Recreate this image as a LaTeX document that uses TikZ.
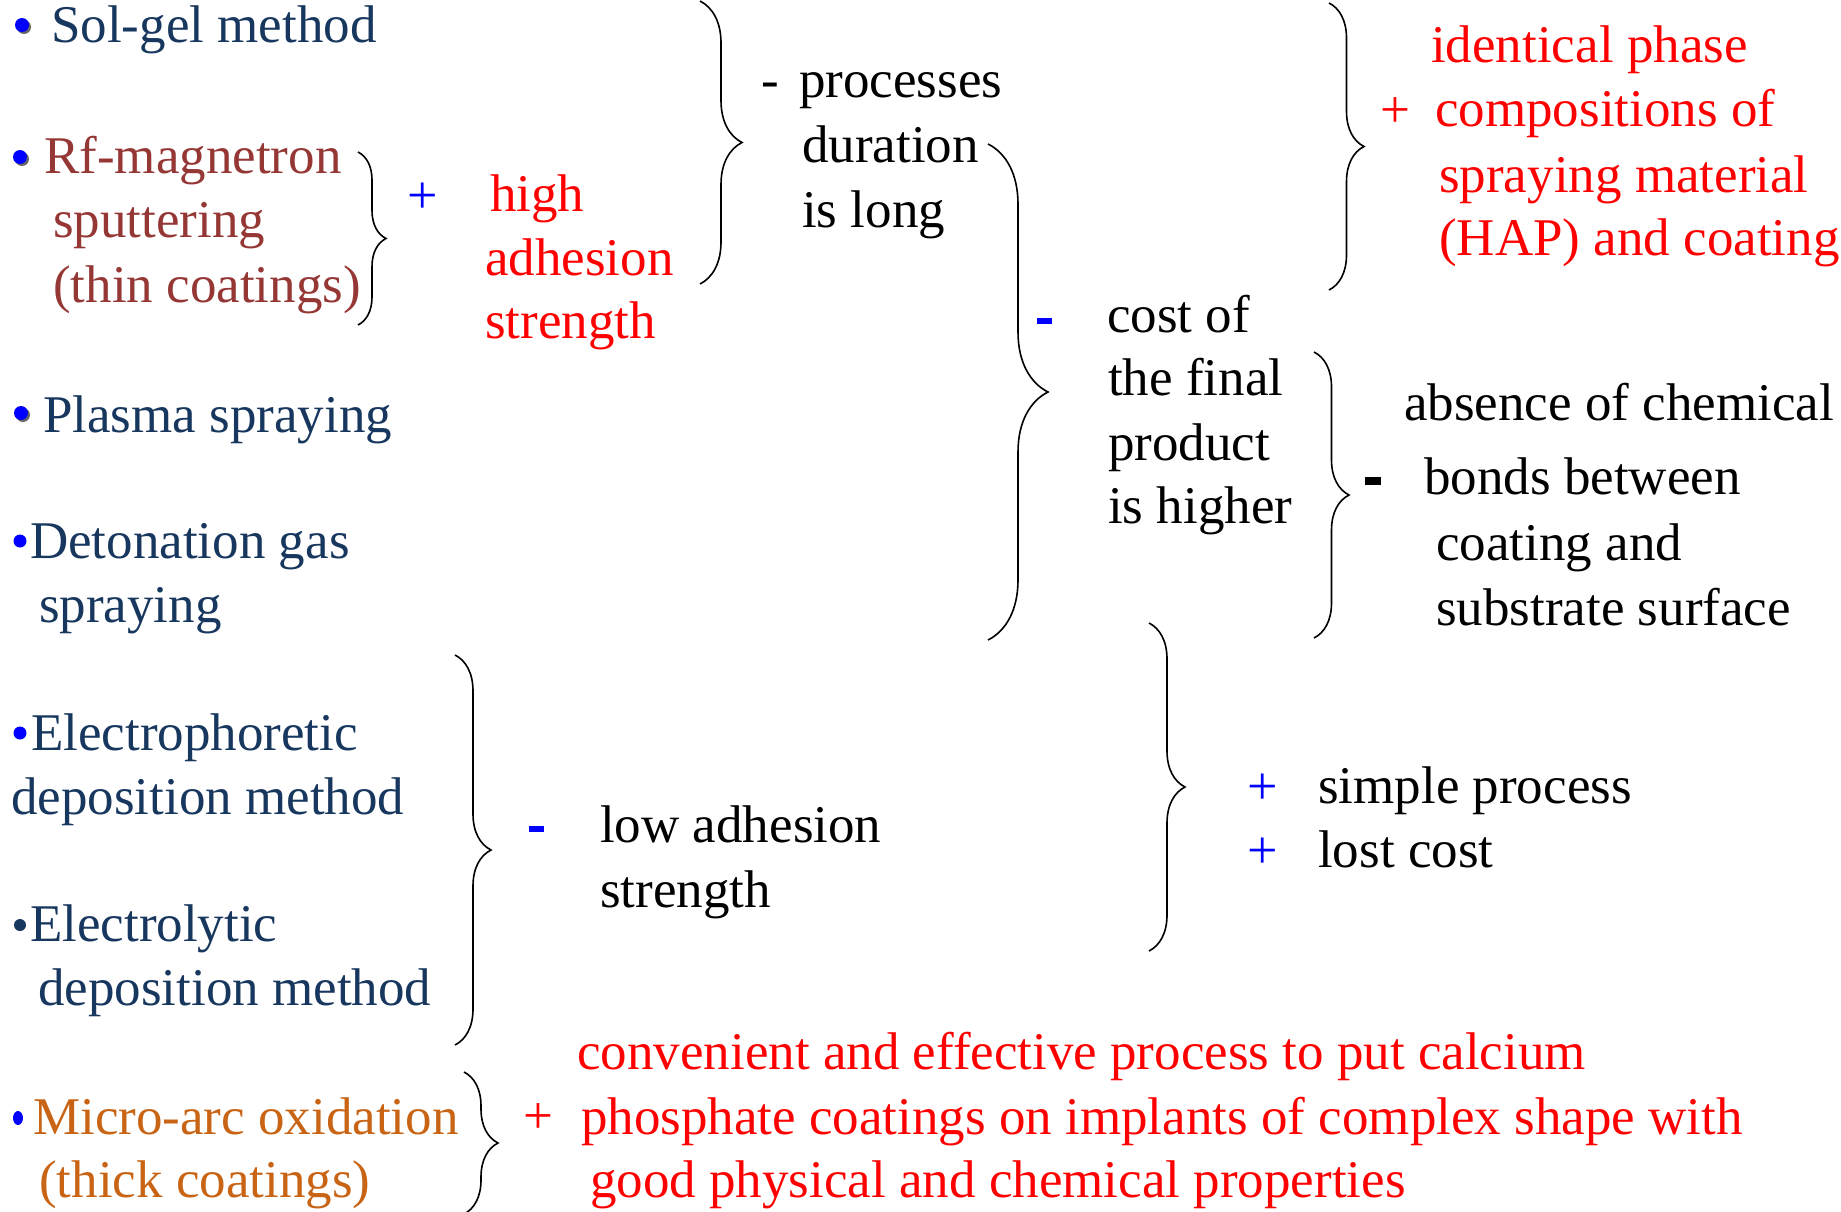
\documentclass[tikz,border=0pt]{standalone}
\usepackage{fontspec}
\setmainfont{Liberation Serif}
\usetikzlibrary{decorations.pathreplacing,shapes.geometric}
\definecolor{navyc}{HTML}{17375E}
\definecolor{brownc}{HTML}{953735}
\definecolor{orangec}{HTML}{C86414}
\definecolor{redc}{HTML}{FF0000}
\definecolor{bluec}{HTML}{0000FF}
\tikzset{
  lefttxt/.style={anchor=base west, inner sep=0pt, text=navyc, font=\fontsize{53}{60}\selectfont},
  txt/.style={anchor=base west, inner sep=0pt, text=black, font=\fontsize{53}{60}\selectfont},
  redtxt/.style={txt, text=redc},
  sign/.style={anchor=center, inner sep=0pt, text=bluec, font=\fontsize{54}{60}\selectfont},
  dashbar/.style={rectangle, inner sep=0pt, minimum width=15pt, minimum height=6pt, fill=bluec, draw=none},
  bul/.style={circle, inner sep=0pt, minimum size=14pt, fill=bluec, draw=none},
  bulshadow/.style={circle, inner sep=0pt, minimum size=14pt, fill=black!60, draw=none},
  bracepath/.style={draw=black, line width=1.6pt, decorate},
}
\begin{document}
\begin{tikzpicture}[x=1pt, y=-1pt]
\useasboundingbox[fill=white] (0,0) rectangle (1841,1212);

% ---------- left column ----------
\node[bulshadow] (s1) at (24,27) {}; \node[bul] (b1) at (22,25) {};
\node[lefttxt] (t1) at (51,43) {Sol-gel method};

\node[bulshadow] (s2) at (22,159) {}; \node[bul] (b2) at (20,157) {};
\node[lefttxt, text=brownc] (t2) at (44,173) {Rf-magnetron};
\node[lefttxt, text=brownc] (t3) at (53,237) {sputtering};
\node[lefttxt, text=brownc] (t4) at (53,302) {(thin coatings)};

\node[bulshadow] (s3) at (23,415) {}; \node[bul] (b3) at (21,413) {};
\node[lefttxt] (t5) at (43,432) {Plasma spraying};

\node[bul, minimum size=13pt] (b4) at (20,541) {};
\node[lefttxt] (t6) at (30,558) {Detonation gas};
\node[lefttxt] (t7) at (39,622) {spraying};

\node[bul, minimum size=13pt] (b5) at (20,733) {};
\node[lefttxt] (t8) at (31,750) {Electrophoretic};
\node[lefttxt] (t9) at (11,814) {deposition method};

\node[bul, minimum size=12pt, fill=navyc] (b6) at (20,925) {};
\node[lefttxt] (t10) at (30,941) {Electrolytic};
\node[lefttxt] (t11) at (38,1005) {deposition method};

\node[ellipse, inner sep=0pt, minimum width=10pt, minimum height=14pt, fill=bluec, draw=none] (b7) at (18,1118) {};
\node[lefttxt, text=orangec] (t12) at (33,1134) {Micro-arc oxidation};
\node[lefttxt, text=orangec] (t13) at (39,1197) {(thick coatings)};

% ---------- high adhesion ----------
\node[sign] (p1) at (423,198) {+};
\node[redtxt] (h1) at (490,211) {high};
\node[redtxt] (h2) at (485,275) {adhesion};
\node[redtxt] (h3) at (485,338) {strength};

% ---------- processes duration ----------
\node[txt] (m0) at (761,98) {-};
\node[txt] (d1) at (799,98) {processes};
\node[txt] (d2) at (802,162) {duration};
\node[txt] (d3) at (802,227) {is long};

% ---------- identical phase ----------
\node[redtxt] (i1) at (1431,63) {identical phase};
\node[redtxt] (ip) at (1380,128) {+};
\node[redtxt] (i2) at (1435,127) {compositions of};
\node[redtxt] (i3) at (1439,192) {spraying material};
\node[redtxt] (i4) at (1439,255) {(HAP) and coating};

% ---------- cost ----------
\node[dashbar] (m1) at (1044,321) {};
\node[txt] (c1) at (1107,332) {cost of};
\node[txt] (c2) at (1108,395) {the final};
\node[txt] (c3) at (1108,460) {product};
\node[txt] (c4) at (1108,523) {is higher};

% ---------- absence of chemical bonds ----------
\node[txt] (a1) at (1404,420) {absence of chemical};
\node[dashbar, fill=black, minimum width=16pt, minimum height=8pt] (m2) at (1373,481) {};
\node[txt] (a2) at (1424,494) {bonds between};
\node[txt] (a3) at (1436,560) {coating and};
\node[txt] (a4) at (1436,625) {substrate surface};

% ---------- low adhesion ----------
\node[dashbar] (m3) at (536,829) {};
\node[txt] (l1) at (600,842) {low adhesion};
\node[txt] (l2) at (600,907) {strength};

% ---------- simple process ----------
\node[sign] (p2) at (1263,789) {+};
\node[txt] (sp1) at (1318,803) {simple process};
\node[sign] (p3) at (1263,853) {+};
\node[txt] (sp2) at (1318,867) {lost cost};

% ---------- micro-arc advantages ----------
\node[redtxt] (mp) at (523,1133) {+};
\node[redtxt] (v1) at (577,1069) {convenient and effective process to put calcium};
\node[redtxt] (v2) at (581,1134) {phosphate coatings on implants of complex shape with};
\node[redtxt] (v3) at (590,1197) {good physical and chemical properties};

% ---------- braces ----------
\coordinate (Atop) at (700,1);   \coordinate (Abot) at (700,284);
\coordinate (Btop) at (358,152); \coordinate (Bbot) at (358,325);
\coordinate (Ctop) at (988,144); \coordinate (Cbot) at (988,640);
\coordinate (Dtop) at (1329,3);  \coordinate (Dbot) at (1329,290);
\coordinate (Etop) at (1314,352);\coordinate (Ebot) at (1314,638);
\coordinate (Ftop) at (1149,623);\coordinate (Fbot) at (1149,951);
\coordinate (Gtop) at (455,655); \coordinate (Gbot) at (455,1045);
\coordinate (Htop) at (464,1072);\coordinate (Hbot) at (464,1214);

\draw[bracepath, decoration={brace, amplitude=42pt}] (Atop) -- (Abot);
\draw[bracepath, decoration={brace, amplitude=28pt}] (Btop) -- (Bbot);
\draw[bracepath, decoration={brace, amplitude=60pt, aspect=0.5}] (Ctop) -- (Cbot);
\draw[bracepath, decoration={brace, amplitude=35pt}] (Dtop) -- (Dbot);
\draw[bracepath, decoration={brace, amplitude=35pt}] (Etop) -- (Ebot);
\draw[bracepath, decoration={brace, amplitude=36pt}] (Ftop) -- (Fbot);
\draw[bracepath, decoration={brace, amplitude=36pt}] (Gtop) -- (Gbot);
\draw[bracepath, decoration={brace, amplitude=34pt}] (Htop) -- (Hbot);
\end{tikzpicture}
\end{document}
